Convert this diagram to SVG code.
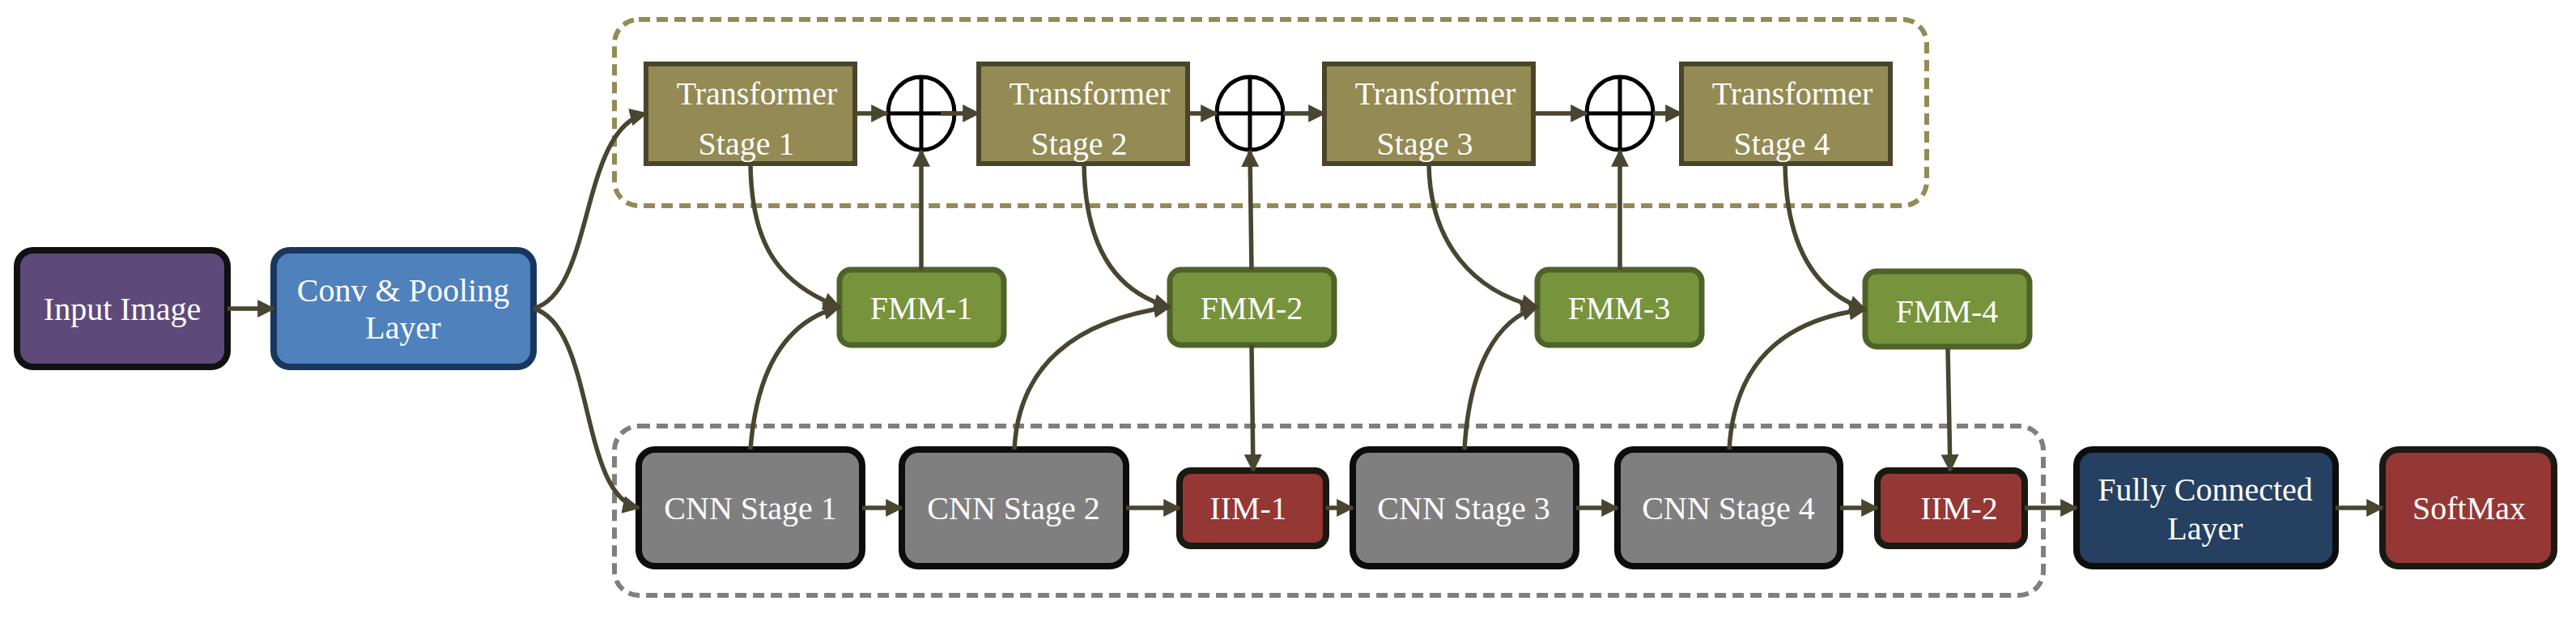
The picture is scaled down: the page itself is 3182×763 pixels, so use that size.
<svg xmlns="http://www.w3.org/2000/svg" width="3182" height="763" viewBox="0 0 3182 763">
<style>
text{font-family:"Liberation Serif","Times New Roman",serif;font-size:40px;fill:#fff;text-anchor:middle}
.c{fill:none;stroke:#4a4530;stroke-width:5.5}
.t{fill:#948a54;stroke:#4a452a;stroke-width:6}
.f{fill:#77933c;stroke:#4f6228;stroke-width:7}
.n{fill:#7f7f7f;stroke:#0d0d0d;stroke-width:8}
.i{fill:#953735;stroke:#1a1a12;stroke-width:8}
.o{fill:#fff;stroke:#000;stroke-width:5}
</style>
<defs><marker id="a" viewBox="0 0 10 10" refX="9" refY="5" markerWidth="4" markerHeight="4" orient="auto" markerUnits="strokeWidth"><path d="M0,0L10,5L0,10z" fill="#4a4530"/></marker></defs>
<rect x="759" y="24" width="1621" height="230" rx="30" fill="none" stroke="#948a54" stroke-width="6" stroke-dasharray="14,8"/>
<rect x="759" y="526" width="1765" height="209" rx="30" fill="none" stroke="#7f7f7f" stroke-width="6" stroke-dasharray="14,8"/>
<g id="input"><rect x="21" y="309" width="260" height="144" rx="20" fill="#5e4a7a" stroke="#111" stroke-width="8"/><text x="151" y="395">Input Image</text></g>
<g id="conv"><rect x="338" y="309" width="321" height="144" rx="20" fill="#4f81bd" stroke="#17375e" stroke-width="8"/><text x="498" y="372">Conv &amp; Pooling</text><text x="498" y="418">Layer</text></g>
<g id="t1"><rect class="t" x="798" y="79" width="258" height="123"/><text x="935" y="129">Transformer</text><text x="922" y="191">Stage 1</text></g>
<g id="t2"><rect class="t" x="1209" y="79" width="258" height="123"/><text x="1346" y="129">Transformer</text><text x="1333" y="191">Stage 2</text></g>
<g id="t3"><rect class="t" x="1636" y="79" width="258" height="123"/><text x="1773" y="129">Transformer</text><text x="1760" y="191">Stage 3</text></g>
<g id="t4"><rect class="t" x="2077" y="79" width="258" height="123"/><text x="2214" y="129">Transformer</text><text x="2201" y="191">Stage 4</text></g>
<g id="p1"><ellipse class="o" cx="1138" cy="140" rx="41" ry="45"/><path d="M1138,95V185M1097,140H1179" stroke="#000" stroke-width="5"/></g>
<g id="p2"><ellipse class="o" cx="1544" cy="140" rx="41" ry="45"/><path d="M1544,95V185M1503,140H1585" stroke="#000" stroke-width="5"/></g>
<g id="p3"><ellipse class="o" cx="2001" cy="140" rx="41" ry="45"/><path d="M2001,95V185M1960,140H2042" stroke="#000" stroke-width="5"/></g>
<g id="fmm1"><rect class="f" x="1037" y="333" width="203" height="93" rx="14"/><text x="1138" y="394">FMM-1</text></g>
<g id="fmm2"><rect class="f" x="1445" y="333" width="203" height="93" rx="14"/><text x="1546" y="394">FMM-2</text></g>
<g id="fmm3"><rect class="f" x="1899" y="333" width="203" height="93" rx="14"/><text x="2000" y="394">FMM-3</text></g>
<g id="fmm4"><rect class="f" x="2304" y="335" width="203" height="93" rx="14"/><text x="2405" y="398">FMM-4</text></g>
<g id="cnn1"><rect class="n" x="789" y="555" width="276" height="144" rx="20"/><text x="927" y="641">CNN Stage 1</text></g>
<g id="cnn2"><rect class="n" x="1114" y="555" width="277" height="144" rx="20"/><text x="1252" y="641">CNN Stage 2</text></g>
<g id="iim1"><rect class="i" x="1457" y="581" width="181" height="93" rx="14"/><text x="1542" y="641">IIM-1</text></g>
<g id="cnn3"><rect class="n" x="1671" y="555" width="276" height="144" rx="20"/><text x="1808" y="641">CNN Stage 3</text></g>
<g id="cnn4"><rect class="n" x="1998" y="555" width="275" height="144" rx="20"/><text x="2135" y="641">CNN Stage 4</text></g>
<g id="iim2"><rect class="i" x="2319" y="581" width="182" height="93" rx="14"/><text x="2420" y="641">IIM-2</text></g>
<g id="fc"><rect x="2565" y="555" width="320" height="144" rx="20" fill="#254061" stroke="#0d0d0d" stroke-width="8"/><text x="2724" y="618">Fully Connected</text><text x="2724" y="666">Layer</text></g>
<g id="softmax"><rect class="i" x="2943" y="555" width="212" height="144" rx="20"/><text x="3050" y="641">SoftMax</text></g>
<g id="connectors">
<path class="c" marker-end="url(#a)" d="M281,381H338"/>
<path class="c" marker-end="url(#a)" d="M659,381C735,360 715,160 798,140"/>
<path class="c" marker-end="url(#a)" d="M659,381C735,402 715,612 789,627"/>
<path class="c" marker-end="url(#a)" d="M1056,140H1096"/>
<path class="c" marker-end="url(#a)" d="M1162,140H1209"/>
<path class="c" marker-end="url(#a)" d="M1467,140H1503"/>
<path class="c" marker-end="url(#a)" d="M1585,140H1636"/>
<path class="c" marker-end="url(#a)" d="M1894,140H1960"/>
<path class="c" marker-end="url(#a)" d="M2042,140H2077"/>
<path class="c" marker-end="url(#a)" d="M927,202C928,300 960,350 1037,379"/>
<path class="c" marker-end="url(#a)" d="M927,555C935,450 975,395 1037,379"/>
<path class="c" marker-end="url(#a)" d="M1138,333V186"/>
<path class="c" marker-end="url(#a)" d="M1339,202C1340,300 1375,360 1445,379"/>
<path class="c" marker-end="url(#a)" d="M1253,555C1258,450 1330,395 1445,379"/>
<path class="c" marker-end="url(#a)" d="M1546,333L1544,186"/>
<path class="c" marker-end="url(#a)" d="M1546,426L1548,581"/>
<path class="c" marker-end="url(#a)" d="M1765,202C1766,300 1820,360 1899,379"/>
<path class="c" marker-end="url(#a)" d="M1809,555C1815,450 1850,395 1899,379"/>
<path class="c" marker-end="url(#a)" d="M2001,333V186"/>
<path class="c" marker-end="url(#a)" d="M2205,202C2206,300 2240,360 2304,382"/>
<path class="c" marker-end="url(#a)" d="M2136,555C2142,450 2200,395 2304,382"/>
<path class="c" marker-end="url(#a)" d="M2406,430L2409,581"/>
<path class="c" marker-end="url(#a)" d="M1065,627H1114"/>
<path class="c" marker-end="url(#a)" d="M1391,627H1457"/>
<path class="c" marker-end="url(#a)" d="M1638,627H1671"/>
<path class="c" marker-end="url(#a)" d="M1947,627H1998"/>
<path class="c" marker-end="url(#a)" d="M2273,627H2319"/>
<path class="c" marker-end="url(#a)" d="M2501,627H2565"/>
<path class="c" marker-end="url(#a)" d="M2885,627H2943"/>
</g>
</svg>
